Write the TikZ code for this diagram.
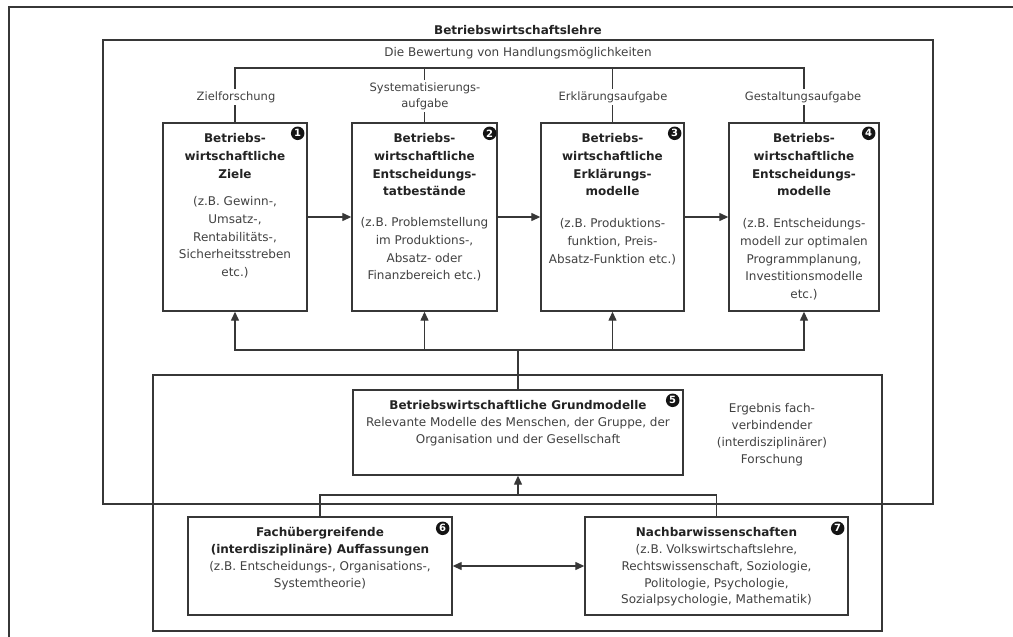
\documentclass[tikz,border=0pt]{standalone}
\usepackage{fontspec}
\setmainfont{DejaVu Sans}
\usetikzlibrary{arrows.meta,calc}
\definecolor{ln}{RGB}{55,55,55}
\definecolor{tx}{RGB}{65,65,65}
\definecolor{hx}{RGB}{35,35,35}
\begin{document}
\begin{tikzpicture}[x=1pt,y=-1pt,
  line/.style={draw=ln, line width=1.3pt},
  tip/.tip={Triangle[length=9pt,width=8pt]},
  arr/.style={line, -tip},
  dbl/.style={line, tip-tip},
  frame/.style={draw=ln, line width=1.4pt, inner sep=0pt},
  box/.style={draw=ln, line width=1.4pt, fill=white, inner sep=0pt},
  txt/.style={inner sep=0pt, align=center, text=tx, font=\fontsize{12}{17.7}\selectfont},
  hd/.style={inner sep=0pt, align=center, text=hx, font=\fontsize{12}{17.7}\selectfont\bfseries},
  ltxt/.style={inner sep=0pt, align=center, text=tx, font=\fontsize{12}{16.75}\selectfont},
  lab/.style={fill=white, inner sep=2pt, align=center, text=tx, font=\fontsize{11.5}{16}\selectfont},
  badge/.style={circle, fill=black!92, text=white, inner sep=0pt, minimum size=13.5pt, font=\fontsize{10}{10}\selectfont\bfseries}
]
\useasboundingbox (0,0) rectangle (1013,637);
\fill[white] (0,0) rectangle (1013,637);

% outer frame (continues beyond the picture)
\coordinate (oTL) at (9,7);
\coordinate (oTR) at (1020,7);
\coordinate (oBL) at (9,645);
\draw[draw=ln, line width=1.7pt] (oTR) -- (oTL) -- (oBL);

% frames
\node[frame, minimum width=830pt, minimum height=464pt] (bwl) at (518,272) {};
\node[inner sep=0pt, text=hx, font=\fontsize{12}{14}\selectfont\bfseries] (title) at (518,30) {Betriebswirtschaftslehre};
\node[frame, minimum width=729pt, minimum height=256pt] (low) at (517.5,503) {};

\node[inner sep=0pt, text=tx, font=\fontsize{12}{14}\selectfont] (bew) at (518,53) {Die Bewertung von Handlungsmöglichkeiten};

% boxes
\node[box, minimum width=144pt, minimum height=188pt] (b1) at (235,217) {};
\node[box, minimum width=145pt, minimum height=188pt] (b2) at (424.5,217) {};
\node[box, minimum width=143pt, minimum height=188pt] (b3) at (612.5,217) {};
\node[box, minimum width=150pt, minimum height=188pt] (b4) at (804,217) {};
\node[box, minimum width=330pt, minimum height=85pt] (b5) at (518,432.5) {};
\node[box, minimum width=264pt, minimum height=98pt] (b6) at (320,566) {};
\node[box, minimum width=263pt, minimum height=98pt] (b7) at (716.5,566) {};

% top bracket
\coordinate (brL) at (236,68);
\coordinate (brR) at (803,68);
\draw[line] (b1.north) -- (b1.north |- brL) -- (b4.north |- brR) -- (b4.north);
\draw[line] (b2.north) -- (b2.north |- brL);
\draw[line] (b3.north) -- (b3.north |- brL);

% labels on the stubs
\node[lab] (l1) at (236,97) {Zielforschung};
\node[lab] (l2) at (425,96) {Systematisierungs-\\aufgabe};
\node[lab] (l3) at (613,97) {Erklärungsaufgabe};
\node[lab] (l4) at (803,97) {Gestaltungsaufgabe};

% arrows between the top boxes
\draw[arr] (b1.east) -- (b2.west);
\draw[arr] (b2.east) -- (b3.west);
\draw[arr] (b3.east) -- (b4.west);

% distribution from Grundmodelle to the top boxes
\coordinate (j) at (518,350);
\draw[line] (b5.north) -- (j);
\draw[arr] (j) -| (b1.south);
\draw[arr] (j) -| (b2.south);
\draw[arr] (j) -| (b3.south);
\draw[arr] (j) -| (b4.south);

% collection from 6 and 7 into 5
\coordinate (k) at (518,495);
\draw[arr] (k) -- (b5.south);
\draw[line] (k) -| (b6.north);
\draw[line] (k) -| (b7.north);
\draw[dbl] (b6.east) -- (b7.west);

% texts in the top boxes
\node[hd, anchor=north] (h1) at (235,133.5) {Betriebs-\\wirtschaftliche\\Ziele};
\node[txt, anchor=north] (t1) at (235,196.5) {(z.B. Gewinn-,\\Umsatz-,\\Rentabilitäts-,\\Sicherheitsstreben\\etc.)};
\node[hd, anchor=north] (h2) at (424.5,133.5) {Betriebs-\\wirtschaftliche\\Entscheidungs-\\tatbestände};
\node[txt, anchor=north] (t2) at (424.5,217.5) {(z.B. Problemstellung\\im Produktions-,\\Absatz- oder\\Finanzbereich etc.)};
\node[hd, anchor=north] (h3) at (612.5,133.5) {Betriebs-\\wirtschaftliche\\Erklärungs-\\modelle};
\node[txt, anchor=north] (t3) at (612.5,218.5) {(z.B. Produktions-\\funktion, Preis-\\Absatz-Funktion etc.)};
\node[hd, anchor=north] (h4) at (804,133.5) {Betriebs-\\wirtschaftliche\\Entscheidungs-\\modelle};
\node[txt, anchor=north] (t4) at (804,218.5) {(z.B. Entscheidungs-\\modell zur optimalen\\Programmplanung,\\Investitionsmodelle\\etc.)};

% texts in the lower boxes
\node[ltxt, anchor=north] (t5) at (518,400.5) {\textbf{\color{hx}Betriebswirtschaftliche Grundmodelle}\\Relevante Modelle des Menschen, der Gruppe, der\\Organisation und der Gesellschaft};
\node[ltxt, anchor=north] (t6) at (320,527.5) {\textbf{\color{hx}Fachübergreifende}\\\textbf{\color{hx}(interdisziplinäre) Auffassungen}\\(z.B. Entscheidungs-, Organisations-,\\Systemtheorie)};
\node[ltxt, anchor=north] (t7) at (716.5,527.5) {\textbf{\color{hx}Nachbarwissenschaften}\\(z.B. Volkswirtschaftslehre,\\Rechtswissenschaft, Soziologie,\\Politologie, Psychologie,\\Sozialpsychologie, Mathematik)};
\node[ltxt, anchor=north] (erg) at (772,403.5) {Ergebnis fach-\\verbindender\\(interdisziplinärer)\\Forschung};

% number badges
\node[badge] (n1) at ($(b1.north east)+(-10,11)$) {1};
\node[badge] (n2) at ($(b2.north east)+(-8,11)$) {2};
\node[badge] (n3) at ($(b3.north east)+(-10,11)$) {3};
\node[badge] (n4) at ($(b4.north east)+(-11,11)$) {4};
\node[badge] (n5) at ($(b5.north east)+(-11,11)$) {5};
\node[badge] (n6) at ($(b6.north east)+(-10,12)$) {6};
\node[badge] (n7) at ($(b7.north east)+(-11,12)$) {7};
\end{tikzpicture}
\end{document}
